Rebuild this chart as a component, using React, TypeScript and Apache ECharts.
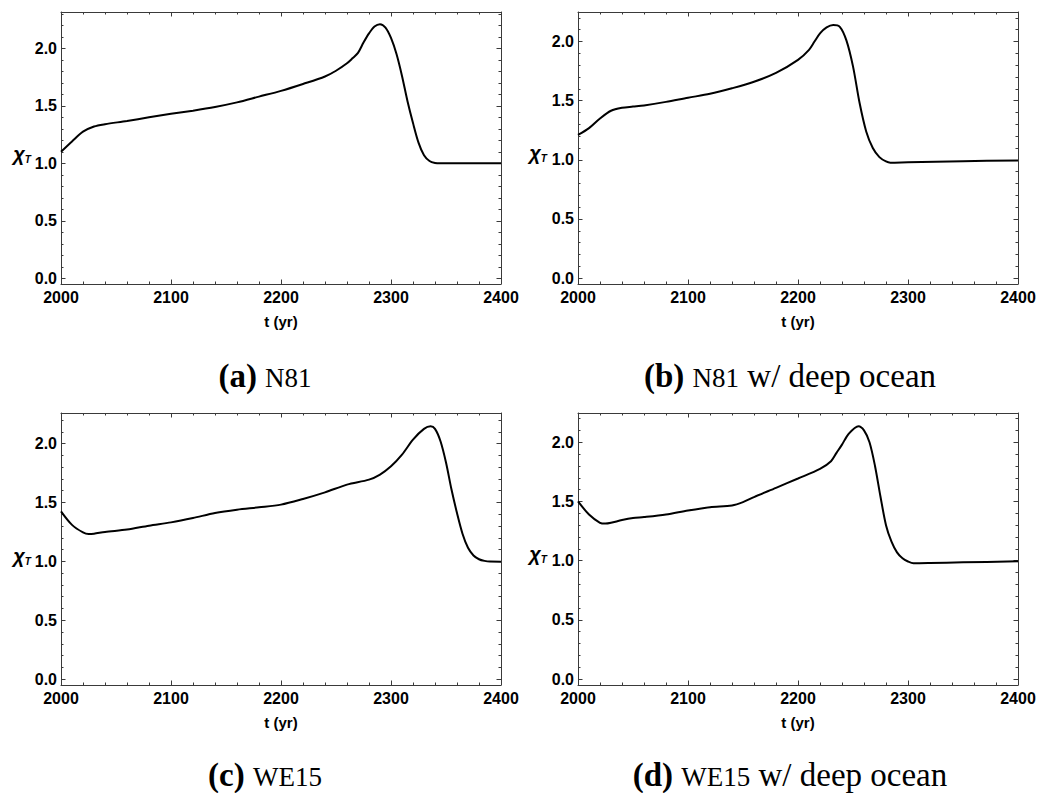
import React, { useEffect, useRef } from 'react';
import * as echarts from 'echarts';

// ---- data ----
const YEARS_A = [2000, 2010, 2020, 2030, 2040, 2060, 2080, 2100, 2120, 2140, 2160, 2180, 2200, 2220, 2240, 2250, 2260, 2265, 2270, 2275, 2280, 2285, 2290, 2295, 2300, 2305, 2310, 2315, 2320, 2325, 2330, 2335, 2340, 2345, 2350, 2400];
const CHI_A = [1.10, 1.19, 1.275, 1.32, 1.34, 1.368, 1.40, 1.43, 1.458, 1.49, 1.53, 1.58, 1.63, 1.69, 1.755, 1.805, 1.87, 1.913, 1.96, 2.05, 2.13, 2.19, 2.21, 2.18, 2.09, 1.95, 1.76, 1.54, 1.35, 1.18, 1.07, 1.02, 1.003, 1.0, 1.0, 1.0];

const YEARS_B = [2000, 2010, 2020, 2030, 2040, 2050, 2060, 2080, 2100, 2120, 2140, 2160, 2180, 2200, 2210, 2215, 2220, 2226, 2232, 2238, 2244, 2250, 2256, 2262, 2268, 2274, 2280, 2284, 2300, 2350, 2400];
const CHI_B = [1.21, 1.268, 1.35, 1.415, 1.44, 1.45, 1.46, 1.49, 1.525, 1.558, 1.605, 1.66, 1.735, 1.845, 1.93, 2.0, 2.07, 2.12, 2.14, 2.125, 2.01, 1.79, 1.48, 1.24, 1.10, 1.023, 0.986, 0.976, 0.98, 0.989, 0.995];

const YEARS_C = [2000, 2010, 2020, 2025, 2030, 2040, 2060, 2080, 2100, 2120, 2140, 2160, 2180, 2200, 2220, 2240, 2260, 2280, 2290, 2300, 2310, 2320, 2330, 2336, 2340, 2345, 2350, 2355, 2360, 2365, 2370, 2375, 2380, 2385, 2390, 2400];
const CHI_C = [1.425, 1.31, 1.246, 1.232, 1.235, 1.25, 1.27, 1.303, 1.331, 1.368, 1.411, 1.439, 1.459, 1.482, 1.53, 1.586, 1.652, 1.694, 1.737, 1.807, 1.906, 2.034, 2.125, 2.147, 2.125, 2.02, 1.84, 1.61, 1.41, 1.235, 1.115, 1.05, 1.018, 1.004, 0.998, 0.997];

const YEARS_D = [2000, 2010, 2020, 2025, 2030, 2040, 2050, 2060, 2080, 2100, 2120, 2140, 2150, 2160, 2180, 2200, 2220, 2230, 2235, 2240, 2246, 2255, 2260, 2265, 2270, 2275, 2280, 2285, 2290, 2295, 2300, 2305, 2320, 2350, 2400];
const CHI_D = [1.50, 1.39, 1.32, 1.313, 1.32, 1.343, 1.36, 1.368, 1.39, 1.424, 1.452, 1.466, 1.494, 1.537, 1.615, 1.694, 1.775, 1.84, 1.91, 1.98, 2.07, 2.135, 2.10, 2.0, 1.80, 1.54, 1.30, 1.16, 1.07, 1.02, 0.993, 0.978, 0.98, 0.986, 0.994];

const Y_MAJOR = [0, 0.5, 1.0, 1.5, 2.0];
const Y_MINOR = [0.1, 0.2, 0.3, 0.4, 0.6, 0.7, 0.8, 0.9, 1.1, 1.2, 1.3, 1.4, 1.6, 1.7, 1.8, 1.9, 2.1, 2.2, 2.3];
const X_MIN = 2000;
const X_MAX = 2400;
const X_STEP = 100;
const Y_MIN = -0.05;

const CAPTIONS = [
  { tag: '(a)', model: 'N81', rest: '' },
  { tag: '(b)', model: 'N81', rest: ' w/ deep ocean' },
  { tag: '(c)', model: 'WE15', rest: '' },
  { tag: '(d)', model: 'WE15', rest: ' w/ deep ocean' },
];

const PANELS = [
  { years: YEARS_A, vals: CHI_A, ymax: 2.316, left: 61, top: 12, cx: 265, cy: 373, chiX: 22, chiY: 154 },
  { years: YEARS_B, vals: CHI_B, ymax: 2.25, left: 578, top: 12, cx: 790, cy: 373, chiX: 538, chiY: 153 },
  { years: YEARS_C, vals: CHI_C, ymax: 2.26, left: 61, top: 413, cx: 265, cy: 772, chiX: 22, chiY: 556 },
  { years: YEARS_D, vals: CHI_D, ymax: 2.247, left: 578, top: 413, cx: 790, cy: 772, chiX: 538, chiY: 554 },
];

const FRAME = '#3a3a3a';
const SANS = 'Liberation Sans, Arial, Helvetica, sans-serif';
const SERIF = 'Liberation Serif, Times New Roman, serif';

function buildOption() {
  const grid: any[] = [];
  const xAxis: any[] = [];
  const yAxis: any[] = [];
  const series: any[] = [];
  const graphic: any[] = [];
  const tickLine = { color: FRAME, width: 1 };

  PANELS.forEach((p, i) => {
    grid.push({ left: p.left, top: p.top, width: 440, height: 272 });
    const xBase = {
      gridIndex: i, type: 'value', min: X_MIN, max: X_MAX, interval: X_STEP,
      axisLine: { show: true, onZero: false, lineStyle: { color: FRAME, width: 1 } },
      axisTick: { show: true, inside: true, length: 4.5, lineStyle: tickLine },
      minorTick: { show: true, splitNumber: 5, length: 2.5, lineStyle: tickLine },
      splitLine: { show: false }, minorSplitLine: { show: false },
    };
    xAxis.push({
      ...xBase, position: 'bottom',
      axisLabel: { show: true, margin: 5, color: '#000', fontFamily: SANS, fontWeight: 'bold', fontSize: 16, showMinLabel: true, showMaxLabel: true, formatter: (v: number) => String(v) },
      name: 't (yr)', nameLocation: 'middle', nameGap: 30,
      nameTextStyle: { color: '#000', fontFamily: SANS, fontWeight: 'bold', fontSize: 15 },
    });
    xAxis.push({ ...xBase, position: 'top', axisLabel: { show: false } });

    const yBase = {
      gridIndex: i, type: 'value', min: Y_MIN, max: p.ymax,
      splitLine: { show: false },
    };
    const fmt = (v: number) => v.toFixed(1);
    yAxis.push({
      ...yBase, position: 'left',
      axisLine: { show: true, onZero: false, lineStyle: { color: FRAME, width: 1 } },
      axisTick: { show: true, inside: true, length: 4.5, lineStyle: tickLine, customValues: Y_MAJOR },
      axisLabel: { show: true, customValues: Y_MAJOR, formatter: fmt, margin: 4, color: '#000', fontFamily: SANS, fontWeight: 'bold', fontSize: 16 },
    });
    yAxis.push({
      ...yBase, position: 'left',
      axisLine: { show: false },
      axisTick: { show: true, inside: true, length: 2.5, lineStyle: tickLine, customValues: Y_MINOR },
      axisLabel: { show: false },
    });
    yAxis.push({
      ...yBase, position: 'right',
      axisLine: { show: true, onZero: false, lineStyle: { color: FRAME, width: 1 } },
      axisTick: { show: true, inside: true, length: 4.5, lineStyle: tickLine, customValues: Y_MAJOR },
      axisLabel: { show: false },
    });
    yAxis.push({
      ...yBase, position: 'right',
      axisLine: { show: false },
      axisTick: { show: true, inside: true, length: 2.5, lineStyle: tickLine, customValues: Y_MINOR },
      axisLabel: { show: false },
    });

    series.push({
      type: 'line', xAxisIndex: i * 2, yAxisIndex: i * 4,
      data: p.years.map((y, k) => [y, p.vals[k]]),
      symbol: 'none', showSymbol: false, smooth: 0.3,
      lineStyle: { color: '#000', width: 2 }, silent: true, clip: true,
    });

    const c = CAPTIONS[i];
    graphic.push({
      type: 'text', x: p.cx, y: p.cy, silent: true,
      style: {
        text: `{b|${c.tag}} {s|${c.model}}{r|${c.rest}}`,
        align: 'center', verticalAlign: 'middle',
        fontFamily: SERIF, fontSize: 33, fill: '#000',
        rich: {
          b: { fontFamily: SERIF, fontWeight: 'bold', fontSize: 33, fill: '#000', color: '#000', verticalAlign: 'bottom', lineHeight: 38 },
          s: { fontFamily: SERIF, fontSize: 27, fill: '#000', color: '#000', verticalAlign: 'bottom', lineHeight: 38, padding: [0, 0, 1, 0] },
          r: { fontFamily: SERIF, fontSize: 33, fill: '#000', color: '#000', verticalAlign: 'bottom', lineHeight: 38 },
        },
      },
    });
    graphic.push({
      type: 'text', x: p.chiX, y: p.chiY, silent: true,
      style: {
        text: '{c|χ}{t|T}',
        align: 'center', verticalAlign: 'middle',
        rich: {
          c: { fontFamily: SANS, fontStyle: 'italic', fontWeight: 'bold', fontSize: 20, fill: '#000', color: '#000', verticalAlign: 'bottom', lineHeight: 20 },
          t: { fontFamily: SANS, fontStyle: 'italic', fontWeight: 'bold', fontSize: 10, fill: '#000', color: '#000', verticalAlign: 'bottom', lineHeight: 16 },
        },
      },
    });
  });

  return { animation: false, backgroundColor: '#fff', grid, xAxis, yAxis, series, graphic };
}

export default function App() {
  const ref = useRef<HTMLDivElement>(null);
  useEffect(() => {
    if (!ref.current) return;
    const chart = echarts.init(ref.current, undefined, { renderer: 'svg' });
    chart.setOption(buildOption() as any);
    return () => chart.dispose();
  }, []);
  return (
    <div
      ref={ref}
      style={{ position: 'absolute', left: 0, top: 0, width: 1039, height: 793, background: '#fff' }}
    />
  );
}
